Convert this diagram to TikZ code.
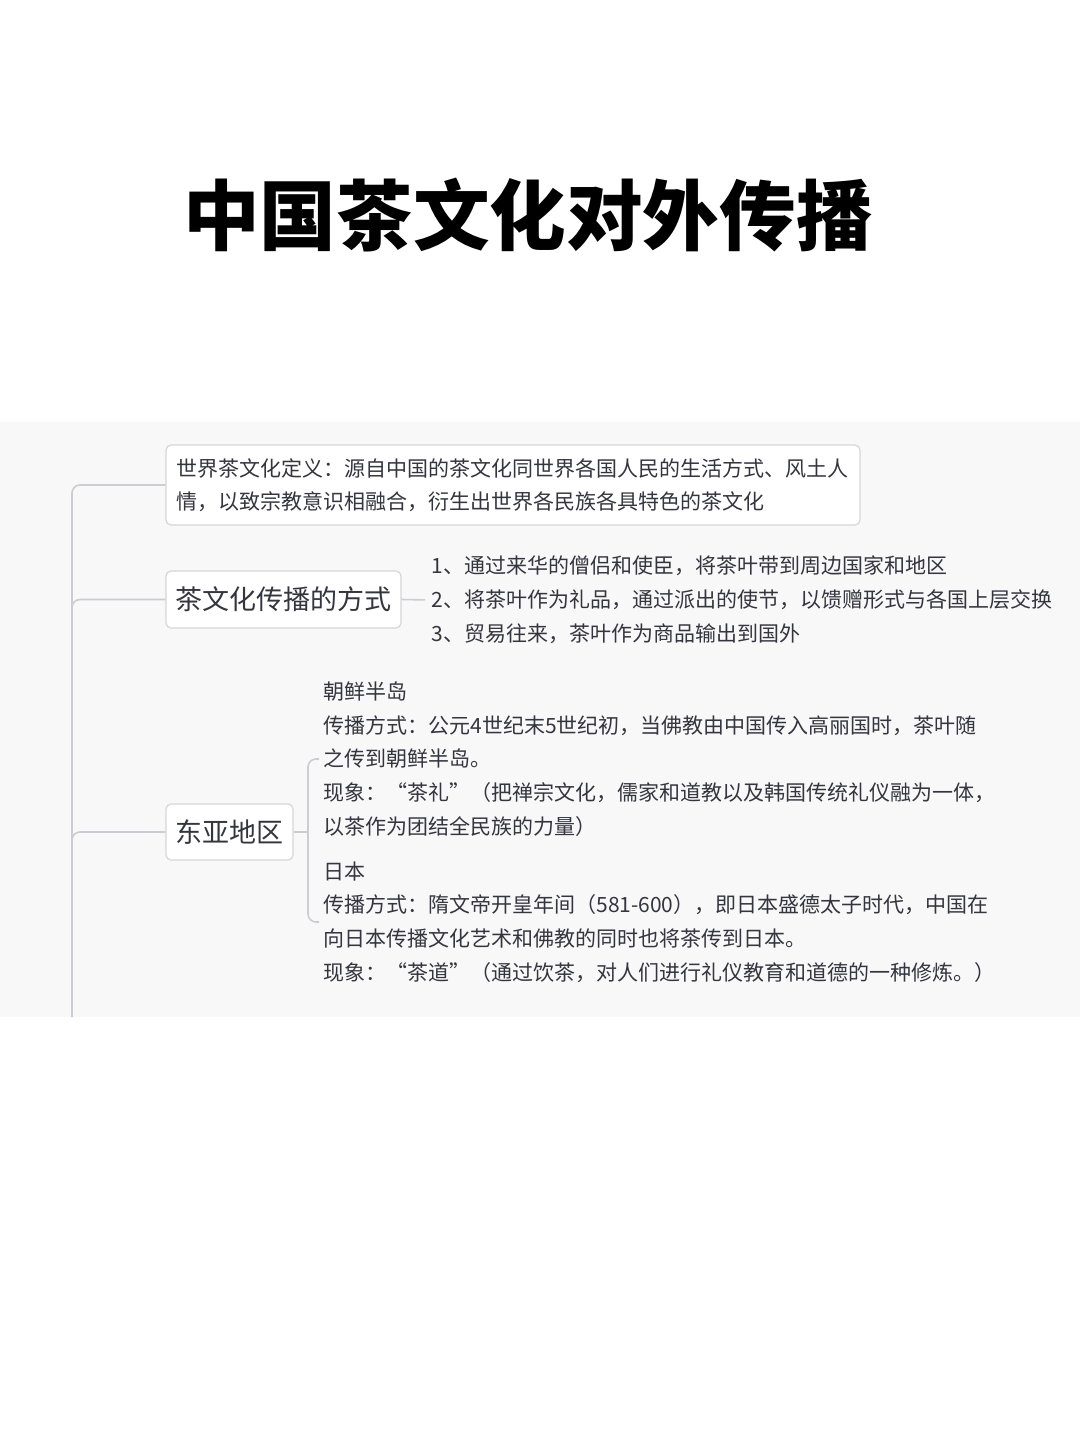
\documentclass[tikz,border=0pt]{standalone}
\usepackage{fontspec}
\setmainfont{Noto Sans CJK SC}
\usetikzlibrary{positioning}

\definecolor{panelgray}{HTML}{F8F8F8}
\definecolor{linegray}{HTML}{CCCCD2}
\definecolor{boxgray}{HTML}{D6D6DA}
\definecolor{textgray}{HTML}{35353F}

\tikzset{
	topic/.style={draw=boxgray, fill=white, line width=0.6pt, rounded corners=2.5pt, text=textgray},
	branch/.style={draw=linegray, line width=0.8pt, rounded corners=4pt},
	leaf/.style={text=textgray, align=left, inner sep=2pt, font=\fontsize{10.5}{16.8}\selectfont},
}

\begin{document}
\begin{tikzpicture}[x=0.5pt, y=-0.5pt]
		\useasboundingbox (0,0) rectangle (1080,1440);
		\fill[panelgray] (0,422) rectangle (1080,1017);
		
		\node[font=\fontsize{38.3}{40}\selectfont\bfseries] (title) at (528,215) {中国茶文化对外传播};
		
		% first level
		\node[topic, text width=337pt, inner xsep=5pt, minimum height=40pt, align=left,
		font=\fontsize{10.5}{16.5}\selectfont] (def) at (513,485)
		{世界茶文化定义：源自中国的茶文化同世界各国人民的生活方式、风土人\\情，以致宗教意识相融合，衍生出世界各民族各具特色的茶文化};
		\node[topic, minimum width=117.5pt, minimum height=28.5pt, inner sep=0pt,
		font=\fontsize{13.5}{15}\selectfont] (way) at (283.5,599.5) {茶文化传播的方式};
		\node[topic, minimum width=63.5pt, minimum height=28pt, inner sep=0pt,
		font=\fontsize{13.5}{15}\selectfont] (ea) at (229.5,832) {东亚地区};
		
		% second level
		\node[leaf, anchor=west, inner sep=0pt, font=\fontsize{10.5}{17}\selectfont] (waylist) at (431,600)
		{1、通过来华的僧侣和使臣，将茶叶带到周边国家和地区\\
		2、将茶叶作为礼品，通过派出的使节，以馈赠形式与各国上层交换\\
		3、贸易往来，茶叶作为商品输出到国外};
		\node[leaf, anchor=west] (korea) at (319,759)
		{朝鲜半岛\\
		传播方式：公元4世纪末5世纪初，当佛教由中国传入高丽国时，茶叶随\\
		之传到朝鲜半岛。\\
		现象：“茶礼”（把禅宗文化，儒家和道教以及韩国传统礼仪融为一体，\\
		以茶作为团结全民族的力量）};
		\node[leaf, anchor=west] (japan) at (319,922)
		{日本\\
		传播方式：隋文帝开皇年间（581-600），即日本盛德太子时代，中国在\\
		向日本传播文化艺术和佛教的同时也将茶传到日本。\\
		现象：“茶道”（通过饮茶，对人们进行礼仪教育和道德的一种修炼。）};
		
		% connectors
		\coordinate (trunkend) at (72,1017);
		\coordinate (eabr) at (308,832);
		\draw[branch] (def.west) -| (trunkend);
		\draw[branch] (way.west) -| ([yshift=-4pt]way.west -| trunkend);
		\draw[branch] (ea.west) -| ([yshift=-4pt]ea.west -| trunkend);
		\draw[branch, shorten >=3pt] (way.east) -- (waylist.west);
		\draw[branch] (ea.east) -- (eabr);
		\draw[branch] (korea.west) -| (eabr) |- (japan.west);
\end{tikzpicture}
\end{document}
